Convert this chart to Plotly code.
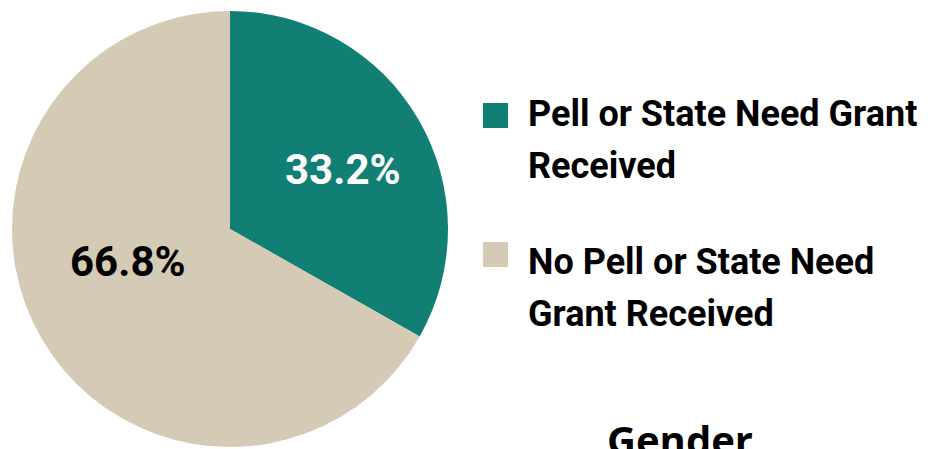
import plotly.graph_objects as go

# Data
categories = ["Pell or State Need Grant Received", "No Pell or State Need Grant Received"]
legend_lines = [["Pell or State Need Grant", "Received"], ["No Pell or State Need", "Grant Received"]]
values = [33.2, 66.8]
colors = ["#127F74", "#D4CAB5"]
label_colors = ["#FFFFFF", "#000000"]
footer_title = "Gender"

W, H = 932, 449
cx, cy, r = 230, 229, 218  # pie centre / radius in pixels (from top-left)

def px(x):
    return x / W

def py(y):
    return 1 - y / H

fig = go.Figure()
fig.add_trace(go.Pie(
    labels=categories,
    values=values,
    sort=False,
    direction="clockwise",
    rotation=0,
    marker=dict(colors=colors, line=dict(width=0)),
    textinfo="none",
    domain=dict(x=[(cx - r) / W, (cx + r) / W], y=[(H - cy - r) / H, (H - cy + r) / H]),
    showlegend=False,
    hoverinfo="label+percent",
))

# Percent labels (text from the values)
label_pos = [(343, 169), (128, 260)]
for v, col, (lx, ly) in zip(values, label_colors, label_pos):
    fig.add_annotation(xref="paper", yref="paper", x=px(lx), y=py(ly + 1),
                       xanchor="center", yanchor="middle", showarrow=False,
                       text=f"<b>{v:.1f}%</b>",
                       font=dict(family="Roboto, sans-serif", size=42, color=col))

# Manual legend
leg_font = dict(family="Roboto, sans-serif", size=36, color="#000000")
square_tops = [103, 242]
first_baselines = [127, 275]
line_gap = 52
for i, (lines, col) in enumerate(zip(legend_lines, colors)):
    top = square_tops[i]
    fig.add_shape(type="rect", xref="paper", yref="paper",
                  x0=px(483), x1=px(508), y0=py(top), y1=py(top + 25),
                  fillcolor=col, line=dict(width=0))
    for j, line in enumerate(lines):
        base = first_baselines[i] + j * line_gap
        fig.add_annotation(xref="paper", yref="paper", x=px(526), y=py(base - 13),
                           xanchor="left", yanchor="middle", align="left", showarrow=False,
                           text="<b>" + line + "</b>", font=leg_font)

fig.add_annotation(xref="paper", yref="paper", x=px(680), y=py(410),
                   xanchor="center", yanchor="top", showarrow=False,
                   text="<b>" + footer_title + "</b>",
                   font=dict(family="Open Sans, sans-serif", size=40, color="#000000"))

fig.update_layout(width=W, height=H, margin=dict(l=0, r=0, t=0, b=0),
                  paper_bgcolor="white", plot_bgcolor="white")
fig.write_html("out.html", config={"displayModeBar": False})

# remove the default page margin so the figure sits at the window origin
with open("out.html", "r", encoding="utf-8") as f:
    html = f.read()
html = html.replace("<body>", '<body style="margin:0;overflow:hidden">', 1)
with open("out.html", "w", encoding="utf-8") as f:
    f.write(html)
